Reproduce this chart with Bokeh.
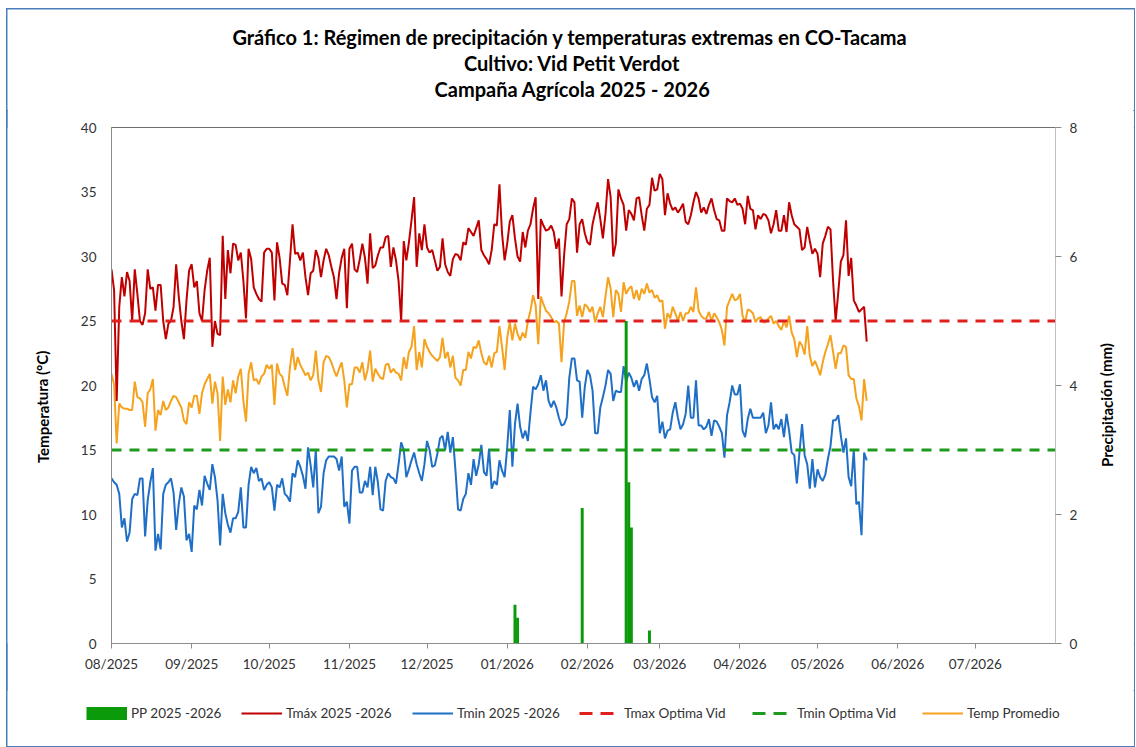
import pandas as pd
from bokeh.plotting import figure
from bokeh.layouts import column, row
from bokeh.models import (Range1d, LinearAxis, DatetimeTickFormatter, FixedTicker,
                          Label, Legend, LegendItem)
from bokeh.embed import file_html
from bokeh.resources import INLINE

# ---------------- data ----------------
START_DATE = "2025-08-01"

tmax = [
    29.0, 27.4, 18.8, 26.1, 28.4, 26.9, 28.8, 28.1, 25.0, 29.0,
    27.1, 25.0, 24.7, 25.6, 29.0, 27.5, 27.6, 25.8, 27.8, 27.8,
    25.0, 23.6, 24.8, 25.0, 26.1, 29.4, 26.9, 25.0, 23.6, 26.6,
    28.9, 29.4, 27.6, 28.1, 25.6, 25.0, 27.4, 28.9, 29.9, 23.0,
    25.0, 24.0, 23.9, 31.6, 26.7, 30.5, 28.7, 31.0, 30.9, 29.7,
    30.3, 28.1, 25.2, 30.6, 29.8, 27.6, 27.1, 26.7, 26.5, 30.3,
    30.6, 30.6, 30.3, 26.6, 31.1, 29.9, 27.9, 27.8, 27.0, 29.7,
    32.5, 30.2, 30.3, 29.7, 30.3, 28.4, 27.0, 28.7, 28.9, 30.5,
    29.9, 28.4, 29.7, 30.6, 30.1, 29.2, 28.4, 26.7, 28.7, 29.9,
    30.6, 26.0, 30.6, 31.0, 29.0, 28.8, 29.8, 31.0, 29.9, 27.9,
    31.8, 29.1, 29.3, 30.1, 30.7, 30.7, 31.5, 31.6, 29.2, 30.7,
    29.7, 28.1, 25.0, 31.2, 29.7, 31.1, 32.8, 34.6, 29.2, 31.8,
    30.5, 32.5, 30.7, 30.3, 30.5, 29.7, 28.9, 29.2, 31.4, 29.4,
    28.8, 28.5, 29.8, 30.2, 30.1, 29.7, 31.1, 30.9, 32.2, 31.9,
    31.6, 32.2, 32.8, 30.5, 30.1, 29.8, 29.4, 30.5, 32.5, 32.4,
    35.6, 31.8, 29.7, 31.0, 32.7, 33.2, 31.4, 30.0, 29.6, 31.9,
    30.7, 32.0, 32.5, 33.7, 34.6, 26.7, 32.9, 32.4, 32.0, 32.1,
    32.4, 31.9, 30.6, 31.4, 26.9, 30.1, 32.5, 32.9, 34.5, 34.2,
    30.3, 32.5, 32.9, 31.8, 31.1, 30.9, 32.5, 33.4, 34.2, 32.9,
    31.4, 33.3, 36.0, 34.6, 30.0, 31.0, 35.2, 34.5, 34.0, 32.0,
    33.6, 33.3, 32.8, 34.5, 34.6, 33.2, 32.0, 33.7, 34.0, 36.1,
    35.1, 35.2, 36.4, 36.0, 33.2, 34.9, 34.1, 33.6, 33.8, 33.4,
    33.7, 34.1, 32.7, 32.5, 33.2, 34.2, 35.0, 34.5, 33.4, 33.8,
    33.3, 34.0, 34.5, 33.6, 32.9, 32.8, 32.0, 32.0, 34.5, 34.3,
    34.2, 34.5, 34.0, 34.1, 33.7, 32.5, 34.7, 33.7, 33.6, 32.1,
    33.2, 32.9, 33.3, 33.2, 32.8, 31.8, 32.5, 33.6, 32.0, 32.0,
    33.2, 31.9, 34.2, 33.2, 32.5, 32.3, 32.1, 30.5, 30.7, 32.3,
    31.2, 30.2, 30.6, 30.2, 28.4, 31.0, 31.6, 32.3, 32.1, 28.1,
    25.0, 27.2, 29.6, 30.1, 32.8, 28.5, 29.9, 26.6, 26.2, 25.7,
    25.9, 26.1, 23.4,
]

tmin = [
    12.8, 12.5, 12.3, 11.6, 9.0, 9.7, 7.9, 8.6, 11.2, 11.6,
    11.5, 12.8, 12.8, 8.3, 11.1, 12.5, 13.6, 7.2, 8.5, 7.3,
    11.6, 12.3, 12.5, 12.8, 11.7, 8.8, 10.8, 12.1, 11.4, 8.0,
    8.5, 7.1, 10.7, 10.4, 11.9, 10.7, 13.0, 12.4, 11.9, 13.9,
    12.9, 11.1, 7.6, 11.6, 10.1, 9.2, 8.6, 9.7, 9.7, 10.2,
    12.1, 9.0, 9.0, 12.3, 13.7, 13.2, 13.6, 12.6, 12.8, 11.9,
    12.3, 12.5, 12.1, 10.3, 12.3, 12.1, 12.8, 11.6, 11.4, 11.0,
    13.2, 12.9, 14.2, 13.7, 13.0, 12.0, 15.2, 13.8, 12.1, 15.0,
    10.1, 10.6, 13.2, 14.2, 14.5, 14.5, 14.5, 14.3, 13.4, 14.5,
    10.6, 11.0, 9.3, 13.4, 13.7, 13.7, 11.7, 11.7, 12.6, 12.1,
    13.7, 11.5, 13.7, 12.5, 10.4, 10.3, 12.6, 13.2, 12.9, 12.8,
    12.4, 13.9, 15.6, 15.0, 12.9, 13.5, 14.2, 14.8, 13.9, 13.2,
    12.6, 13.9, 15.7, 15.0, 13.7, 13.8, 14.7, 15.9, 16.1, 15.0,
    16.4, 14.8, 16.0, 13.4, 10.4, 10.3, 11.2, 11.6, 13.2, 12.3,
    14.3, 13.0, 13.9, 15.4, 13.3, 13.0, 15.1, 12.0, 12.6, 12.3,
    14.2, 13.4, 12.9, 15.2, 18.1, 13.7, 17.0, 18.6, 16.8, 15.9,
    16.5, 15.7, 17.9, 19.9, 19.7, 20.1, 20.8, 19.6, 20.4, 18.8,
    18.3, 18.8, 18.3, 17.5, 16.9, 17.0, 17.5, 20.6, 22.1, 22.1,
    20.4, 20.3, 17.5, 19.9, 21.2, 20.8, 19.6, 16.3, 16.3, 18.3,
    19.1, 20.0, 21.2, 20.9, 18.8, 19.6, 19.5, 19.5, 21.5, 20.3,
    21.0, 20.6, 19.9, 20.4, 19.6, 20.5, 20.8, 21.7, 20.5, 19.1,
    18.7, 19.2, 16.3, 17.2, 15.9, 16.5, 16.6, 17.9, 18.7, 17.5,
    16.6, 17.0, 17.8, 20.0, 17.5, 17.5, 20.4, 16.9, 16.9, 16.6,
    16.8, 17.4, 16.1, 17.3, 17.2, 16.8, 16.3, 14.4, 17.7, 18.7,
    20.0, 19.3, 19.3, 20.1, 16.5, 16.0, 17.4, 18.2, 17.5, 17.5,
    17.5, 17.5, 17.9, 16.3, 16.9, 18.7, 16.6, 17.0, 16.6, 17.4,
    16.0, 17.8, 16.5, 14.8, 14.6, 12.4, 14.8, 17.0, 14.6, 13.9,
    12.0, 14.3, 12.1, 13.5, 12.9, 12.6, 13.1, 14.3, 15.3, 17.3,
    17.3, 17.7, 16.1, 14.8, 15.9, 12.9, 12.2, 15.0, 10.8, 11.0,
    8.4, 14.8, 14.2,
]

tavg = [
    20.9, 20.1, 15.5, 18.6, 18.3, 18.2, 18.2, 18.1, 18.1, 20.3,
    19.1, 19.0, 18.7, 16.8, 19.4, 19.7, 20.5, 16.5, 18.1, 17.7,
    18.8, 18.1, 18.3, 18.8, 19.2, 19.1, 18.7, 18.3, 17.3, 17.0,
    18.7, 18.3, 19.2, 19.2, 17.8, 19.4, 20.1, 20.5, 20.9, 18.6,
    20.3, 19.4, 15.7, 20.7, 18.5, 19.7, 18.7, 20.4, 19.4, 20.7,
    21.3, 18.8, 17.2, 20.9, 21.8, 20.4, 20.5, 20.1, 20.7, 20.9,
    21.6, 21.3, 21.6, 18.5, 21.7, 20.9, 20.7, 19.9, 19.2, 21.4,
    22.9, 21.2, 22.2, 21.6, 21.2, 20.8, 21.0, 20.4, 20.8, 22.7,
    20.4, 19.5, 21.8, 22.3, 22.2, 21.8, 21.2, 20.7, 21.3, 21.8,
    20.4, 18.3, 20.1, 20.1, 21.4, 21.4, 21.0, 21.8, 20.4, 21.2,
    22.7, 20.3, 21.3, 20.9, 20.6, 20.5, 21.6, 21.7, 21.0, 21.3,
    21.0, 20.9, 20.4, 22.2, 21.3, 22.6, 23.0, 24.6, 21.2, 22.6,
    21.4, 23.6, 23.0, 22.6, 22.3, 22.1, 21.9, 22.2, 23.7, 22.1,
    22.6, 21.4, 22.3, 20.6, 20.4, 20.0, 21.2, 21.2, 22.6, 22.1,
    23.0, 22.9, 23.5, 22.5, 21.8, 21.6, 22.3, 21.4, 22.5, 22.6,
    24.6, 23.0, 21.2, 23.7, 24.9, 23.5, 24.8, 24.0, 23.5, 24.1,
    23.7, 25.0, 25.8, 27.0, 26.2, 23.2, 26.9, 26.3, 25.8, 25.6,
    25.3, 24.9, 25.0, 24.8, 21.8, 24.9, 25.6, 26.5, 28.1, 28.1,
    25.4, 26.2, 25.3, 26.3, 26.1, 25.7, 26.1, 24.9, 25.6, 26.1,
    25.3, 26.9, 28.4, 27.5, 25.3, 27.4, 27.1, 25.7, 28.0, 27.1,
    27.5, 27.7, 26.7, 27.4, 26.6, 27.5, 27.1, 27.9, 27.2, 27.4,
    26.8, 27.0, 26.5, 26.6, 24.4, 25.6, 25.2, 26.1, 25.6, 25.0,
    25.7, 25.0, 25.6, 25.6, 26.1, 25.7, 27.6, 25.8, 25.4, 25.2,
    25.2, 25.7, 25.0, 25.6, 25.3, 24.9, 24.3, 23.1, 26.1, 26.6,
    27.1, 26.6, 26.7, 27.1, 25.4, 24.9, 25.9, 25.8, 25.6, 24.9,
    25.2, 25.3, 24.9, 24.9, 25.2, 25.4, 24.8, 25.0, 24.6, 24.3,
    25.0, 24.5, 25.4, 24.1, 23.6, 22.2, 23.4, 23.1, 22.4, 24.6,
    22.3, 21.5, 21.9, 21.4, 20.8, 21.8, 22.6, 23.2, 23.9, 22.6,
    21.3, 22.5, 22.5, 23.1, 23.0, 20.8, 20.5, 20.5, 19.0, 18.4,
    17.3, 20.5, 18.8,
]

pp_dates = ["2026-01-04", "2026-01-05", "2026-01-30", "2026-02-16",
            "2026-02-17", "2026-02-18", "2026-02-25"]
pp_mm = [0.6, 0.4, 2.1, 5.0, 2.5, 1.8, 0.2]

TMAX_OPTIMA = 25.0
TMIN_OPTIMA = 15.0

tick_months = ["2025-08-01", "2025-09-01", "2025-10-01", "2025-11-01",
               "2025-12-01", "2026-01-01", "2026-02-01", "2026-03-01",
               "2026-04-01", "2026-05-01", "2026-06-01", "2026-07-01"]
tick_labels = ["08/2025", "09/2025", "10/2025", "11/2025", "12/2025", "01/2026",
               "02/2026", "03/2026", "04/2026", "05/2026", "06/2026", "07/2026"]

temp_ticks = [0, 5, 10, 15, 20, 25, 30, 35, 40]
pp_ticks = [0, 2, 4, 6, 8]

title_lines = ["Gráfico 1:  Régimen de precipitación y temperaturas extremas en CO-Tacama",
               "Cultivo: Vid Petit Verdot",
               "Campaña Agrícola 2025 - 2026"]
y_title = "Temperatura (°C)"
y2_title = "Precipitación (mm)"
legend_labels = ["PP 2025 -2026", "Tmáx 2025 -2026", "Tmin 2025 -2026",
                 "Tmax Optima Vid", "Tmin Optima Vid", "Temp Promedio"]

# ---------------- styling ----------------
FONT = "Lato"
C_TMAX = "#C00000"
C_TMIN = "#1F6FC6"
C_TAVG = "#F5A21E"
C_PP = "#0A9A0A"
C_OPT_MAX = "#E0201E"
C_OPT_MIN = "#1E9A1E"
AXIS_C = "#8C8C8C"
TXT_C = "#333333"
DASH = "10 8"
KEY_DASH = "13 8"

W_TOTAL, H_TOTAL = 1127, 737
W_LEFT, W_RIGHT = 53, 44
H_TITLE, H_LEG = 101, 56
W_MAIN = W_TOTAL - W_LEFT - W_RIGHT
H_MAIN = H_TOTAL - H_TITLE - H_LEG


def blank(w, h):
    f = figure(width=w, height=h, x_range=Range1d(0, w), y_range=Range1d(0, h),
               x_axis_type=None, y_axis_type=None, output_backend="svg",
               toolbar_location=None, min_border=0)
    f.grid.visible = False
    f.outline_line_color = None
    f.background_fill_color = "white"
    f.border_fill_color = "white"
    return f


days = pd.date_range(START_DATE, periods=len(tmax), freq="D")
season = pd.date_range("2025-08-01", "2026-08-01", freq="D")

# ---------------- main chart ----------------
p = figure(width=W_MAIN, height=H_MAIN, x_axis_type="datetime",
           x_range=Range1d(pd.Timestamp("2025-08-01"), pd.Timestamp("2026-08-01")),
           y_range=Range1d(0, 40), output_backend="svg", toolbar_location=None,
           min_border_left=51, min_border_right=35,
           min_border_top=17, min_border_bottom=47)
p.extra_y_ranges = {"pp": Range1d(0, 8)}
p.grid.visible = False
p.outline_line_color = "#6E6E6E"
p.outline_line_width = 1
p.background_fill_color = "white"
p.border_fill_color = "white"

p.line(days, tavg, line_color=C_TAVG, line_width=2)
p.line(days, tmax, line_color=C_TMAX, line_width=2)
p.line(days, tmin, line_color=C_TMIN, line_width=2)
p.line(season, [TMAX_OPTIMA] * len(season), line_color=C_OPT_MAX, line_width=3, line_dash=DASH)
p.line(season, [TMIN_OPTIMA] * len(season), line_color=C_OPT_MIN, line_width=3, line_dash=DASH)
p.vbar(x=pd.to_datetime(pp_dates), top=pp_mm, width=1.15 * 86400000,
       y_range_name="pp", fill_color=C_PP, line_color=None)

xa = p.xaxis[0]
tick_ms = [float(pd.Timestamp(t).value // 10**6) for t in tick_months]
xa.ticker = FixedTicker(ticks=tick_ms)
xa.formatter = DatetimeTickFormatter(days="%m/%Y", months="%m/%Y", years="%m/%Y")
xa.major_label_overrides = {k: v for k, v in zip(tick_ms, tick_labels)}
xa.major_tick_out = 5
xa.major_tick_in = 0
xa.minor_tick_line_color = None
xa.axis_line_color = AXIS_C
xa.major_tick_line_color = AXIS_C
xa.major_label_standoff = 7
xa.major_label_text_font = FONT
xa.major_label_text_font_size = "13.5px"
xa.major_label_text_color = TXT_C

ya = p.yaxis[0]
ya.ticker = FixedTicker(ticks=temp_ticks)
ya.major_tick_out = 0
ya.major_tick_in = 0
ya.minor_tick_line_color = None
ya.axis_line_color = AXIS_C
ya.major_label_standoff = 15
ya.major_label_text_font = FONT
ya.major_label_text_font_size = "13.5px"
ya.major_label_text_color = TXT_C

ra = LinearAxis(y_range_name="pp", ticker=FixedTicker(ticks=pp_ticks))
ra.major_tick_out = 6
ra.major_tick_in = 0
ra.minor_tick_line_color = None
ra.axis_line_color = "#BFBFBF"
ra.major_tick_line_color = AXIS_C
ra.major_label_standoff = 8
ra.major_label_text_font = FONT
ra.major_label_text_font_size = "13.5px"
ra.major_label_text_color = TXT_C
p.add_layout(ra, "right")

# ---------------- title strip ----------------
tfig = blank(W_TOTAL, H_TITLE)
for txt, ty in zip(title_lines, [74, 48, 22]):
    tfig.add_layout(Label(x=565, y=ty, text=txt, text_align="center",
                          text_baseline="middle", text_font=FONT,
                          text_font_style="bold", text_font_size="20px",
                          text_color="black"))

# ---------------- axis titles ----------------
lfig = blank(W_LEFT, H_MAIN)
lfig.add_layout(Label(x=35, y=266, text=y_title, angle=1.5708, text_align="center",
                      text_baseline="middle", text_font=FONT, text_font_style="bold",
                      text_font_size="15px", text_color="black"))
rfig = blank(W_RIGHT, H_MAIN)
rfig.add_layout(Label(x=16, y=268, text=y2_title, angle=1.5708, text_align="center",
                      text_baseline="middle", text_font=FONT, text_font_style="bold",
                      text_font_size="15px", text_color="black"))

# ---------------- legend strip ----------------
# hidden stand-in renderers (same series) so that the legend can draw its keys
gfig = blank(W_TOTAL, H_LEG)
idx = list(range(len(tmax)))
keys = [
    gfig.line(idx, tmax, line_color=C_PP, line_width=13, visible=False),
    gfig.line(idx, tmax, line_color=C_TMAX, line_width=2, visible=False),
    gfig.line(idx, tmin, line_color=C_TMIN, line_width=2, visible=False),
    gfig.line(idx, [TMAX_OPTIMA] * len(idx), line_color=C_OPT_MAX, line_width=3,
              line_dash=KEY_DASH, visible=False),
    gfig.line(idx, [TMIN_OPTIMA] * len(idx), line_color=C_OPT_MIN, line_width=3,
              line_dash=KEY_DASH, visible=False),
    gfig.line(idx, tavg, line_color=C_TAVG, line_width=2, visible=False),
]
key_x = [79, 234, 405, 572, 745, 915]
for lab, rend, kx in zip(legend_labels, keys, key_x):
    lg = Legend(items=[LegendItem(label=lab, renderers=[rend])],
                location=(kx, 25), orientation="horizontal",
                glyph_width=41, glyph_height=16, label_height=16,
                label_standoff=4, padding=0, margin=0, spacing=0,
                border_line_color=None, background_fill_alpha=0,
                inactive_fill_alpha=0,
                label_text_font=FONT, label_text_font_size="13.5px",
                label_text_color=TXT_C)
    gfig.add_layout(lg, "center")

layout = column(tfig, row(lfig, p, rfig, spacing=0), gfig, spacing=0)
layout.styles = {"margin-left": "7px", "margin-top": "9px",
                 "outline": "2px solid #4A7EBB", "outline-offset": "-1px"}

open("out.html", "w").write(file_html(layout, INLINE))
